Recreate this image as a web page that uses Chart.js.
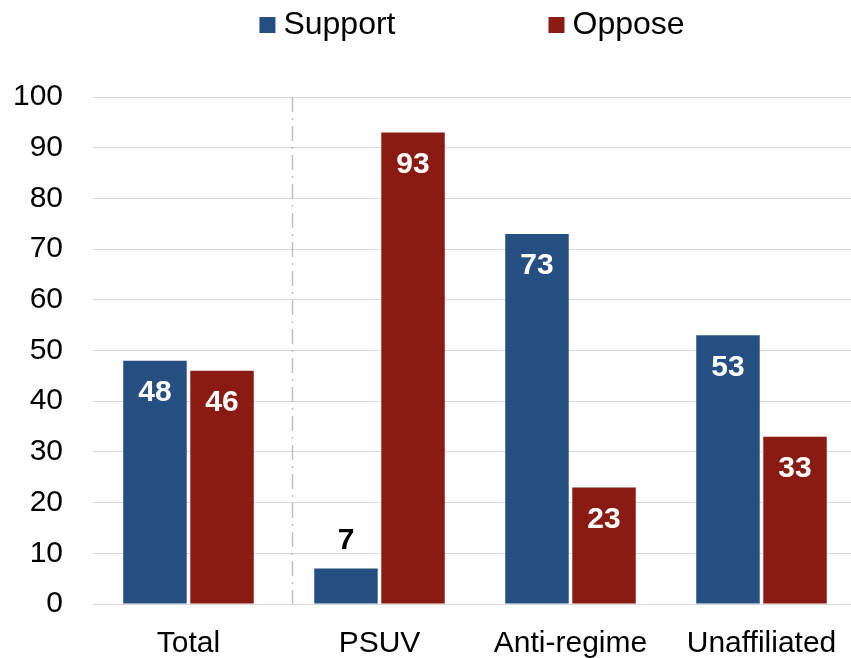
<!DOCTYPE html>
<html>
<head>
<meta charset="utf-8">
<script src="https://cdn.jsdelivr.net/npm/chart.js@4"></script>
<style>
  html, body { margin: 0; padding: 0; background: #fff; overflow: hidden; }
  #wrap { width: 857px; height: 658px; }
</style>
</head>
<body>
<div id="wrap"><canvas id="grafico"></canvas></div>
<script>
const categorias = ["Total", "PSUV", "Anti-regime", "Unaffiliated"];
const dataSupport = [48, 7, 73, 53];
const dataOppose = [46, 93, 23, 33];
const ticksY = [0, 10, 20, 30, 40, 50, 60, 70, 80, 90, 100];

const FONT = "'Liberation Sans', Arial, sans-serif";

// etiquetas de valor sobre/dentro de cada barra
const etiquetasPlugin = {
  id: "etiquetas",
  afterDatasetsDraw(chart) {
    const ctx = chart.ctx;
    ctx.save();
    ctx.font = "bold 30px " + FONT;
    ctx.textAlign = "center";
    ctx.textBaseline = "middle";
    chart.data.datasets.forEach((ds, i) => {
      chart.getDatasetMeta(i).data.forEach((bar, j) => {
        const alto = bar.base - bar.y;
        if (alto < 70) {
          ctx.fillStyle = "#000";
          ctx.fillText(ds.data[j], bar.x, bar.y - 28);
        } else {
          ctx.fillStyle = "#fff";
          ctx.fillText(ds.data[j], bar.x, bar.y + 32);
        }
      });
    });
    ctx.restore();
  },
};

// linea separadora entre Total y el resto
const separadorPlugin = {
  id: "separador",
  beforeDatasetsDraw(chart) {
    const x = chart.scales.x;
    const area = chart.chartArea;
    const px = x.getPixelForValue(0) + (x.getPixelForValue(1) - x.getPixelForValue(0)) * 0.54;
    const ctx = chart.ctx;
    ctx.save();
    ctx.strokeStyle = "#bfbfbf";
    ctx.lineWidth = 1.5;
    ctx.setLineDash([15, 6, 2, 6]);
    ctx.beginPath();
    ctx.moveTo(Math.round(px) + 0.5, area.top);
    ctx.lineTo(Math.round(px) + 0.5, area.bottom);
    ctx.stroke();
    ctx.restore();
  },
};

// leyenda dibujada a mano para poder separar los items
const leyendaPlugin = {
  id: "leyenda",
  afterDraw(chart) {
    const ctx = chart.ctx;
    const area = chart.chartArea;
    ctx.save();
    ctx.font = "32px " + FONT;
    ctx.textBaseline = "middle";
    const caja = 16, sep = 8, hueco = 153;
    const items = chart.data.datasets.map((ds) => ({
      label: ds.label,
      color: ds.backgroundColor,
      w: ctx.measureText(ds.label).width,
    }));
    let total = 0;
    items.forEach((it, k) => { total += caja + sep + it.w + (k ? hueco : 0); });
    let cx = (area.left + Math.min(area.right, window.innerWidth)) / 2 - total / 2;
    const cy = 25;
    items.forEach((it) => {
      ctx.fillStyle = it.color;
      ctx.fillRect(cx, cy - caja / 2, caja, caja);
      ctx.fillStyle = "#000";
      ctx.fillText(it.label, cx + caja + sep, cy);
      cx += caja + sep + it.w + hueco;
    });
    ctx.restore();
  },
};

new Chart(document.getElementById("grafico").getContext("2d"), {
  type: "bar",
  data: {
    labels: categorias,
    datasets: [
      {
        label: "Support",
        data: dataSupport,
        backgroundColor: "#244F80",
        categoryPercentage: 0.702,
        barPercentage: 0.947,
      },
      {
        label: "Oppose",
        data: dataOppose,
        backgroundColor: "#8A1B12",
        categoryPercentage: 0.702,
        barPercentage: 0.947,
      },
    ],
  },
  options: {
    responsive: true,
    maintainAspectRatio: false,
    animation: false,
    layout: { padding: { top: 97, left: 13, right: 0, bottom: 0 } },
    plugins: {
      legend: { display: false },
      tooltip: { enabled: false },
    },
    scales: {
      x: {
        grid: { display: false },
        border: { display: false },
        afterFit: (axis) => { axis.height = 54; },
        ticks: {
          color: "#000",
          padding: 14,
          maxRotation: 0,
          font: { family: FONT, size: 30 },
        },
      },
      y: {
        min: 0,
        max: 100,
        afterBuildTicks: (axis) => { axis.ticks = ticksY.map((v) => ({ value: v })); },
        afterFit: (axis) => { axis.width = 80; },
        grid: { color: "#d9d9d9", lineWidth: 1, drawTicks: false },
        border: { display: false },
        ticks: {
          color: "#000",
          padding: 30,
          font: { family: FONT, size: 30 },
        },
      },
    },
  },
  plugins: [separadorPlugin, etiquetasPlugin, leyendaPlugin],
});
</script>
</body>
</html>
